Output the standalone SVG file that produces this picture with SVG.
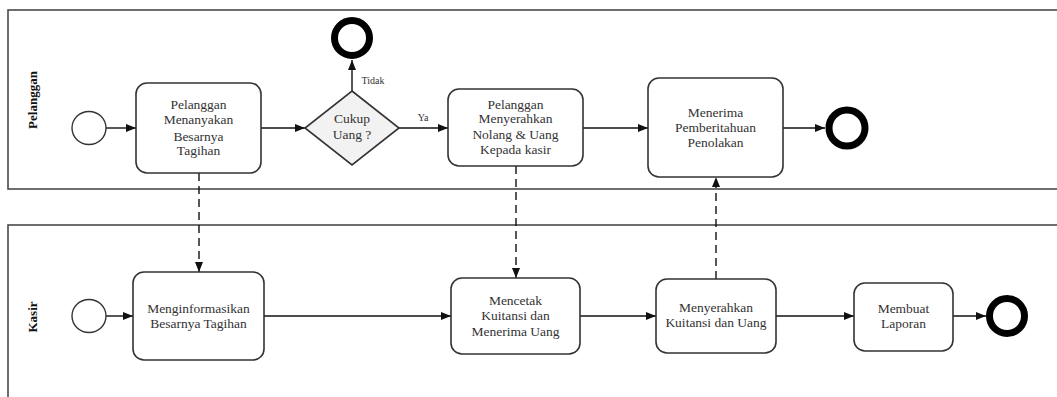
<svg xmlns="http://www.w3.org/2000/svg" width="1057" height="397" viewBox="0 0 1057 397">
  <style>
    .lane { fill: none; stroke: #4a4a4a; stroke-width: 1.6; }
    .lane-label { font-family: "Liberation Serif", "DejaVu Serif", serif; font-size: 13px; font-weight: bold; fill: #111; text-anchor: middle; }
    .task { fill: #fff; stroke: #333; stroke-width: 1.6; }
    .gateway { fill: #f2f2f2; stroke: #333; stroke-width: 1.6; }
    .start { fill: #fff; stroke: #333; stroke-width: 1.4; }
    .end { fill: #fff; stroke: #000; stroke-width: 7; }
    .label { font-family: "Liberation Serif", "DejaVu Serif", serif; font-size: 13.5px; fill: #333; text-anchor: middle; }
    .small { font-family: "Liberation Serif", "DejaVu Serif", serif; font-size: 10px; fill: #333; text-anchor: middle; }
    .flow { fill: none; stroke: #111; stroke-width: 1.4; marker-end: url(#arrow); }
    .msg { fill: none; stroke: #111; stroke-width: 1.4; stroke-dasharray: 8 5; marker-end: url(#arrow); }
  </style>
  <defs>
    <marker id="arrow" viewBox="0 0 10 10" refX="10" refY="5" markerWidth="10" markerHeight="10" markerUnits="userSpaceOnUse" orient="auto">
      <path d="M0,1 L10,5 L0,9 z" fill="#111"/>
    </marker>
  </defs>

  <!-- swimlanes -->
  <g id="lane-pelanggan">
    <rect class="lane" x="8" y="10" width="1060" height="179"/>
    <text class="lane-label" transform="translate(37,100) rotate(-90)">Pelanggan</text>
  </g>
  <g id="lane-kasir">
    <rect class="lane" x="8" y="225" width="1060" height="190"/>
    <text class="lane-label" transform="translate(37,317) rotate(-90)">Kasir</text>
  </g>

  <!-- connectors -->
  <g id="connectors">
    <line class="flow" x1="106" y1="128" x2="136" y2="128"/>
    <line class="flow" x1="261" y1="128" x2="305" y2="128"/>
    <line class="flow" x1="352" y1="91" x2="352" y2="60"/>
    <text class="small" x="373" y="84">Tidak</text>
    <line class="flow" x1="399" y1="128" x2="448" y2="128"/>
    <text class="small" x="423" y="121">Ya</text>
    <line class="flow" x1="583" y1="128" x2="648" y2="128"/>
    <line class="flow" x1="783" y1="128" x2="825" y2="128"/>

    <line class="flow" x1="106" y1="316" x2="133" y2="316"/>
    <line class="flow" x1="264" y1="316" x2="451" y2="316"/>
    <line class="flow" x1="580" y1="316" x2="656" y2="316"/>
    <line class="flow" x1="776" y1="316" x2="854" y2="316"/>
    <line class="flow" x1="953" y1="316" x2="986" y2="316"/>

    <line class="msg" x1="199" y1="173" x2="199" y2="272"/>
    <line class="msg" x1="516" y1="166" x2="516" y2="278"/>
    <line class="msg" x1="716" y1="279" x2="716" y2="177"/>
  </g>

  <!-- Pelanggan lane nodes -->
  <g id="start-pelanggan">
    <ellipse class="start" cx="89" cy="128" rx="17" ry="16.5"/>
  </g>
  <g id="task-menanyakan">
    <rect class="task" x="136" y="83" width="125" height="90" rx="11"/>
    <text class="label" x="198.5" y="109">Pelanggan</text>
    <text class="label" x="198.5" y="124">Menanyakan</text>
    <text class="label" x="198.5" y="141">Besarnya</text>
    <text class="label" x="198.5" y="155">Tagihan</text>
  </g>
  <g id="gateway-cukup">
    <polygon class="gateway" points="352,91 399,128 352,165 305,128"/>
    <text class="label" x="352" y="123">Cukup</text>
    <text class="label" x="352" y="139">Uang ?</text>
  </g>
  <g id="end-tidak">
    <circle class="end" cx="352" cy="38" r="17.5"/>
  </g>
  <g id="task-menyerahkan-nolang">
    <rect class="task" x="448" y="89" width="135" height="77" rx="11"/>
    <text class="label" x="515.5" y="109">Pelanggan</text>
    <text class="label" x="515.5" y="123">Menyerahkan</text>
    <text class="label" x="515.5" y="139">Nolang &amp; Uang</text>
    <text class="label" x="515.5" y="154">Kepada kasir</text>
  </g>
  <g id="task-menerima-pemberitahuan">
    <rect class="task" x="648" y="78" width="135" height="99" rx="11"/>
    <text class="label" x="715.5" y="117">Menerima</text>
    <text class="label" x="715.5" y="132">Pemberitahuan</text>
    <text class="label" x="715.5" y="147">Penolakan</text>
  </g>
  <g id="end-pelanggan">
    <circle class="end" cx="847" cy="128" r="18"/>
  </g>

  <!-- Kasir lane nodes -->
  <g id="start-kasir">
    <ellipse class="start" cx="89" cy="316" rx="17" ry="16.5"/>
  </g>
  <g id="task-menginformasikan">
    <rect class="task" x="133" y="272" width="131" height="88" rx="11"/>
    <text class="label" x="198.5" y="313">Menginformasikan</text>
    <text class="label" x="198.5" y="328">Besarnya Tagihan</text>
  </g>
  <g id="task-mencetak">
    <rect class="task" x="451" y="278" width="129" height="76" rx="11"/>
    <text class="label" x="515.5" y="305">Mencetak</text>
    <text class="label" x="515.5" y="320">Kuitansi dan</text>
    <text class="label" x="515.5" y="336">Menerima Uang</text>
  </g>
  <g id="task-menyerahkan-kuitansi">
    <rect class="task" x="656" y="279" width="120" height="74" rx="11"/>
    <text class="label" x="716" y="312">Menyerahkan</text>
    <text class="label" x="716" y="327">Kuitansi dan Uang</text>
  </g>
  <g id="task-membuat-laporan">
    <rect class="task" x="854" y="283" width="99" height="68" rx="11"/>
    <text class="label" x="903.5" y="313">Membuat</text>
    <text class="label" x="903.5" y="328">Laporan</text>
  </g>
  <g id="end-kasir">
    <circle class="end" cx="1007" cy="316" r="17.5"/>
  </g>
</svg>
